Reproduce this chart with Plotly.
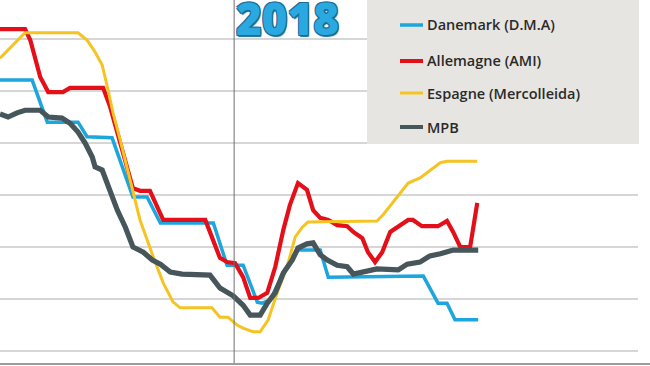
import plotly.graph_objects as go

# Weeks relative to 1 January 2018 (0 = start of 2018); prices in EUR/kg
series_names = ["Danemark (D.M.A)", "Allemagne (AMI)", "Espagne (Mercolleida)", "MPB"]
series_colors = ["#1DA5DE", "#E3101A", "#F5C423", "#46565A"]
series_widths = [3.5, 4.2, 3, 5.2]

dk_weeks = [-49.5, -42.7, -39.5, -33.0, -31.1, -25.8, -21.4, -18.4, -15.6, -4.4, -1.5, 1.9, 4.9,
            5.9, 7.6, 9.7, 12.3, 13.5, 18.2, 19.9, 40.0, 43.1, 45.0, 46.7, 51.6]
dk_price = [1.621, 1.621, 1.540, 1.540, 1.512, 1.510, 1.396, 1.396, 1.346, 1.346, 1.265, 1.265, 1.194,
            1.192, 1.198, 1.237, 1.281, 1.294, 1.294, 1.242, 1.244, 1.192, 1.192, 1.160, 1.160]

de_weeks = [-49.5, -44.2, -43.1, -42.1, -41.0, -39.3, -36.2, -34.7, -27.7, -26.2, -21.4, -19.9,
            -17.8, -15.0, -6.1, -3.0, -1.5, 0.2, 1.9, 3.4, 5.1, 7.0, 8.7, 10.4, 11.8, 13.5, 15.4,
            16.7, 18.2, 19.9, 21.8, 23.9, 25.2, 27.1, 28.3, 29.8, 31.3, 33.0, 34.7, 36.8, 37.8,
            39.7, 43.1, 45.0, 46.3, 47.8, 49.9, 51.4]
de_price = [1.719, 1.719, 1.698, 1.665, 1.627, 1.598, 1.598, 1.606, 1.606, 1.569, 1.413, 1.408,
            1.408, 1.352, 1.352, 1.279, 1.271, 1.269, 1.242, 1.202, 1.202, 1.212, 1.262, 1.333,
            1.381, 1.423, 1.410, 1.371, 1.356, 1.352, 1.342, 1.340, 1.329, 1.317, 1.290, 1.271,
            1.290, 1.329, 1.340, 1.352, 1.352, 1.340, 1.340, 1.350, 1.329, 1.300, 1.300, 1.385]

es_weeks = [-49.5, -44.2, -33.0, -31.1, -29.4, -27.9, -26.8, -25.6, -24.1, -21.6, -19.9, -17.1,
            -15.0, -12.9, -11.4, -4.7, -3.0, -1.3, 0.6, 1.9, 4.0, 5.5, 7.2, 9.1, 11.2, 12.9, 14.4,
            15.6, 30.2, 31.5, 34.5, 36.8, 39.3, 41.0, 43.6, 45.0, 51.4]
es_price = [1.663, 1.712, 1.712, 1.698, 1.675, 1.650, 1.608, 1.558, 1.506, 1.415, 1.352, 1.281,
            1.231, 1.194, 1.183, 1.183, 1.165, 1.165, 1.150, 1.144, 1.137, 1.137, 1.160, 1.212,
            1.262, 1.319, 1.338, 1.348, 1.350, 1.362, 1.396, 1.423, 1.433, 1.444, 1.462, 1.465, 1.465]

mpb_weeks = [-49.5, -47.8, -45.9, -44.2, -41.0, -39.3, -36.4, -34.7, -33.0, -31.5, -30.0, -29.4,
             -27.9, -26.6, -24.7, -23.0, -21.4, -19.2, -17.3, -15.6, -13.5, -11.0, -5.1, -3.0,
             -0.2, 1.9, 3.4, 5.5, 7.0, 8.7, 10.4, 12.3, 13.5, 15.4, 16.7, 18.2, 19.7, 21.8, 23.9,
             25.2, 28.1, 30.2, 34.7, 36.6, 39.3, 41.4, 43.6, 46.3, 51.6]
mpb_price = [1.556, 1.550, 1.558, 1.563, 1.563, 1.550, 1.548, 1.538, 1.521, 1.500, 1.473, 1.454,
             1.448, 1.415, 1.371, 1.338, 1.300, 1.290, 1.275, 1.267, 1.252, 1.248, 1.246, 1.221,
             1.206, 1.188, 1.169, 1.169, 1.192, 1.212, 1.250, 1.275, 1.298, 1.306, 1.308, 1.285,
             1.275, 1.265, 1.262, 1.248, 1.254, 1.258, 1.256, 1.267, 1.271, 1.283, 1.287, 1.294, 1.294]

year_label = "2018"
year_start_week = 0

W, H = 650, 366
ML, MR, MT, MB = 0, 12, 0, 2
PW, PH = W - ML - MR, H - MT - MB

def px(x):   # pixel -> paper x
    return (x - ML) / PW

def py(y):   # pixel -> paper y
    return 1 - (y - MT) / PH

fig = go.Figure()
all_x = [dk_weeks, de_weeks, es_weeks, mpb_weeks]
all_y = [dk_price, de_price, es_price, mpb_price]
for name, xs, ys, col, w in zip(series_names, all_x, all_y, series_colors, series_widths):
    fig.add_trace(go.Scatter(x=xs, y=ys, mode="lines", name=name,
                             line=dict(color=col, width=w), showlegend=False,
                             hoverinfo="skip"))

shapes = [
    dict(type="line", xref="x", yref="paper", x0=year_start_week, x1=year_start_week, y0=0, y1=1,
         line=dict(color="#6E6E6E", width=1)),
    dict(type="line", xref="paper", yref="paper", x0=0, x1=W / PW, y0=0, y1=0,
         line=dict(color="#9C9C9C", width=2)),
    dict(type="rect", xref="paper", yref="paper", x0=px(367), x1=px(639), y0=py(144), y1=1.02,
         fillcolor="#E7E5E1", line=dict(width=0), layer="above"),
]
annotations = []
rows = [25, 61, 93, 127]
for name, col, w, r in zip(series_names, series_colors, series_widths, rows):
    shapes.append(dict(type="line", xref="paper", yref="paper", x0=px(400), x1=px(423),
                       y0=py(r), y1=py(r), line=dict(color=col, width=min(w, 4)), layer="above"))
    annotations.append(dict(xref="paper", yref="paper", x=px(425), y=py(r), text=name,
                            showarrow=False, xanchor="left", yanchor="middle",
                            font=dict(family="Open Sans", size=14.5, color="#2A2A2A", weight=600)))

annotations.append(dict(xref="paper", yref="paper", x=px(287), y=py(18), text=year_label,
                        showarrow=False, xanchor="center", yanchor="middle",
                        font=dict(family="Open Sans", size=44, color="#2AA9E0", weight=800,
                                  shadow="1px 1px 0 #1A6E96, -1px -1px 0 #1A6E96, 1px -1px 0 #1A6E96, -1px 1px 0 #1A6E96, 1px 2px 1px #1A6E96")))

fig.update_layout(
    width=W, height=H,
    margin=dict(l=ML, r=MR, t=MT, b=MB, pad=0),
    paper_bgcolor="white", plot_bgcolor="white",
    showlegend=False,
    xaxis=dict(range=[-49.5, -49.5 + PW / 4.73], showgrid=False, zeroline=False,
               showticklabels=False, showline=False, ticks=""),
    yaxis=dict(range=[1.075, 1.775], tick0=1.1, dtick=0.1, showgrid=True, gridcolor="#D6D6D6",
               gridwidth=1.5, zeroline=False, showticklabels=False, showline=False, ticks=""),
    shapes=shapes,
    annotations=annotations,
)

fig.write_html("out.html", config={"displayModeBar": False},
               post_script="document.body.style.margin='0';document.body.style.overflow='hidden';")
